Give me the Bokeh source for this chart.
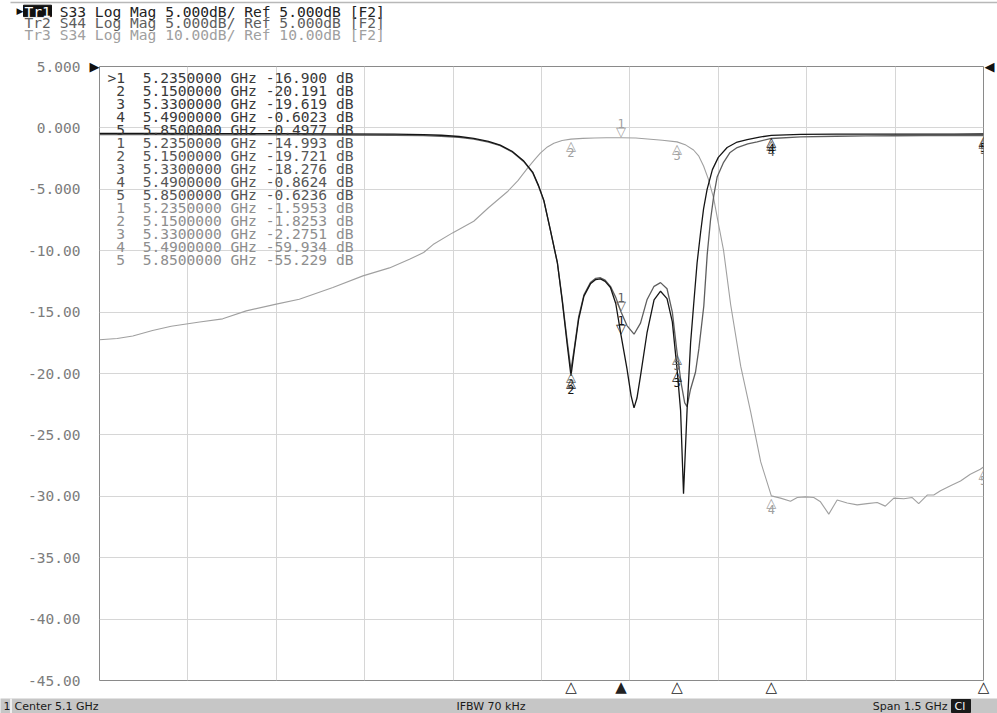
import numpy as np
from bokeh.plotting import figure
from bokeh.layouts import column
from bokeh.models import Range1d, FixedTicker, Label, ColumnDataSource, LinearAxis
from bokeh.core.properties import value
from bokeh.embed import file_html
from bokeh.resources import INLINE

# ---------------- data ----------------
F_START, F_STOP = 4.35, 5.85          # GHz
IFBW_KHZ = 70
TRACE_NAMES = ["S33", "S44", "S34"]
SCALE_DB = [5.0, 5.0, 10.0]           # dB / div
REF_DB = [5.0, 5.0, 10.0]             # reference level (top line)

MARKER_FREQ = [5.235, 5.15, 5.33, 5.49, 5.85]
S33_MARKERS = [-16.900, -20.191, -19.619, -0.6023, -0.4977]
S44_MARKERS = [-14.993, -19.721, -18.276, -0.8624, -0.6236]
S34_MARKERS = [-1.5953, -1.8253, -2.2751, -59.934, -55.229]

S33_F = [4.35, 4.45, 4.55, 4.65, 4.75, 4.85, 4.90, 4.93, 4.96, 4.985, 5.01, 5.03, 5.05, 5.07,
         5.085, 5.095, 5.104, 5.115, 5.127, 5.135, 5.144, 5.15, 5.156, 5.163, 5.172, 5.183,
         5.192, 5.20, 5.208, 5.217, 5.226, 5.235, 5.245, 5.252, 5.257, 5.262, 5.268, 5.279,
         5.291, 5.302, 5.313, 5.322, 5.33, 5.336, 5.341, 5.347, 5.353, 5.358, 5.364, 5.370,
         5.375, 5.381, 5.39, 5.40, 5.415, 5.432, 5.449, 5.47, 5.49, 5.54, 5.60, 5.65, 5.70,
         5.75, 5.80, 5.85]
S33_DB = [-0.45, -0.45, -0.46, -0.47, -0.48, -0.50, -0.54, -0.60, -0.70, -0.85, -1.10, -1.40,
          -1.90, -2.70, -3.60, -4.70, -5.90, -8.30, -11.0, -14.0, -17.8, -20.191, -18.0, -15.6,
          -13.7, -12.7, -12.35, -12.3, -12.5, -13.0, -14.3, -16.900, -19.6, -21.8, -22.8, -22.0,
          -20.2, -16.7, -14.0, -13.3, -13.9, -15.8, -19.619, -23.0, -29.8, -23.0, -17.5, -14.5,
          -11.0, -8.5, -6.6, -5.0, -3.4, -2.4, -1.6, -1.15, -0.95, -0.75, -0.6023, -0.53, -0.51,
          -0.50, -0.50, -0.50, -0.50, -0.4977]

S44_F = [4.35, 4.45, 4.55, 4.65, 4.75, 4.85, 4.90, 4.93, 4.96, 4.985, 5.01, 5.03, 5.05, 5.07,
         5.085, 5.095, 5.104, 5.115, 5.127, 5.135, 5.144, 5.15, 5.156, 5.163, 5.172, 5.183,
         5.192, 5.20, 5.208, 5.217, 5.226, 5.235, 5.245, 5.257, 5.268, 5.279, 5.291, 5.302,
         5.313, 5.322, 5.33, 5.337, 5.343, 5.347, 5.3528, 5.3613, 5.367, 5.3754, 5.3812,
         5.3868, 5.3924, 5.398, 5.409, 5.42, 5.432, 5.45, 5.466, 5.49, 5.54, 5.60, 5.65, 5.70,
         5.75, 5.80, 5.85]
S44_DB = [-0.55, -0.55, -0.56, -0.57, -0.58, -0.60, -0.63, -0.68, -0.77, -0.92, -1.15, -1.45,
          -1.95, -2.75, -3.65, -4.75, -5.95, -8.3, -11.0, -13.9, -17.5, -19.721, -17.8, -15.4,
          -13.6, -12.6, -12.25, -12.2, -12.4, -12.9, -13.8, -14.993, -16.1, -16.8, -15.9, -14.0,
          -12.9, -12.6, -13.1, -15.0, -18.276, -20.8, -22.4, -22.7, -21.3, -19.9, -18.0, -14.5,
          -10.3, -7.5, -5.5, -4.0, -2.8, -2.0, -1.6, -1.3, -1.13, -0.8624, -0.73, -0.68, -0.65,
          -0.64, -0.63, -0.63, -0.6236]

S34_F = [4.35, 4.38, 4.4065, 4.44, 4.4717, 4.52, 4.559, 4.599, 4.65, 4.689, 4.746, 4.797, 4.842,
         4.876, 4.90, 4.916, 4.949, 4.985, 5.01, 5.042, 5.06, 5.076, 5.088, 5.098, 5.11, 5.121,
         5.135, 5.15, 5.17, 5.19, 5.21, 5.235, 5.26, 5.28, 5.305, 5.33, 5.345, 5.358, 5.367,
         5.375, 5.383, 5.392, 5.40, 5.409, 5.421, 5.438, 5.455, 5.472, 5.49, 5.5056, 5.5225,
         5.534, 5.548, 5.562, 5.5734, 5.5875, 5.6017, 5.6187, 5.6357, 5.6526, 5.6696, 5.6834,
         5.6978, 5.7148, 5.729, 5.740, 5.7545, 5.7656, 5.777, 5.794, 5.811, 5.8276, 5.8446, 5.85]
S34_DB = [-34.5, -34.3, -33.9, -33.0, -32.3, -31.6, -31.1, -29.8, -28.7, -27.9, -26.0, -24.1,
          -22.8, -21.4, -20.3, -19.0, -17.1, -15.2, -13.0, -10.4, -8.6, -6.6, -5.2, -4.1, -3.1,
          -2.5, -2.05, -1.8253, -1.7, -1.64, -1.6, -1.5953, -1.65, -1.8, -2.0, -2.2751, -2.8,
          -3.6, -4.6, -6.2, -8.3, -11.4, -15.5, -20.0, -28.8, -38.8, -46.3, -54.4, -59.934,
          -60.3, -60.8, -60.2, -60.1, -60.2, -60.9, -62.9, -60.6, -61.1, -61.4, -61.2, -61.0,
          -61.6, -60.3, -60.4, -60.2, -61.2, -59.8, -59.8, -59.1, -58.3, -57.5, -56.4, -55.6,
          -55.229]

Y_TICKS = [5, 0, -5, -10, -15, -20, -25, -30, -35, -40, -45]

# ---------------- layout / style ----------------
W = 997
HEAD_H = 58                  # page y 0..58
MAIN_TOP = HEAD_H
FL, FR, FT, FB = 99, 983, 66, 683        # frame edges (page px)
MAIN_BOTTOM_BORDER = 15
MAIN_H = FB + MAIN_BOTTOM_BORDER - MAIN_TOP   # page y 58..698
STAT_TOP = MAIN_TOP + MAIN_H
STAT_H = 713 - STAT_TOP                   # page y 698..713
COLORS = ["#151515", "#5e5e5e", "#a0a0a0"]
TABLE_COLORS = ["#3a3a3a", "#565656", "#8e8e8e"]
MONO = "DejaVu Sans Mono"
CH = 8.8                                  # mono character advance at 14.6px
NB = "\u00a0"                             # keeps spaces in svg text

y_top = REF_DB[0]
y_bot = REF_DB[0] - 10 * SCALE_DB[0]
t3_top = REF_DB[2]
t3_bot = REF_DB[2] - 10 * SCALE_DB[2]


def px2x(px):
    return F_START + (px - FL) / (FR - FL) * (F_STOP - F_START)


def px2y(py):
    return y_top - (py - FT) / (FB - FT) * (y_top - y_bot)


def fmt4(v):
    return f"{v:.3f}" if abs(v) < 10 else f"{v:.2f}"


def fmt_val(v):
    return f"{v:.3f}" if abs(v) >= 10 else f"{v:.4f}"


def no_align(f):
    try:
        f.frame_align = False
    except AttributeError:
        pass


def blank_fig(height, y0, bg):
    f = figure(width=W, height=height, x_range=Range1d(0, W),
               y_range=Range1d(y0 + height, y0), output_backend="svg", toolbar_location=None,
               title=None, x_axis_location=None, y_axis_location=None,
               min_border=0, min_border_left=0, min_border_right=0,
               min_border_top=0, min_border_bottom=0)
    f.grid.visible = False
    f.outline_line_color = None
    f.background_fill_color = bg
    f.border_fill_color = bg
    no_align(f)
    return f


# ---------------- header ----------------
head = blank_fig(HEAD_H, 0, "white")
head.segment(x0=[10], y0=[2], x1=[W], y1=[2], line_color="#b8b8b8", line_width=1.5)
row_y = [10.5, 22.2, 33.9]
head.quad(left=[23], right=[51], top=[row_y[0] - 5.8], bottom=[row_y[0] + 5.6], color="#111111")
head.add_layout(Label(x=16, y=row_y[0], text="▶", text_baseline="middle", text_font="DejaVu Sans",
                      text_font_size="9px", text_color="#111111"))
for i, name in enumerate(TRACE_NAMES):
    col = "white" if i == 0 else COLORS[i]
    head.add_layout(Label(x=24, y=row_y[i], text=f"Tr{i + 1}", text_baseline="middle",
                          text_font=MONO, text_font_size="14.6px", text_color=col))
    rest = f"{name} Log Mag {fmt4(SCALE_DB[i])}dB/ Ref {fmt4(REF_DB[i])}dB [F2]"
    head.add_layout(Label(x=24 + 4 * CH, y=row_y[i], text=rest.replace(" ", NB),
                          text_baseline="middle", text_font=MONO, text_font_size="14.6px",
                          text_color="#222222" if i == 0 else COLORS[i]))

# ---------------- main chart ----------------
p = figure(width=W, height=MAIN_H, x_range=Range1d(F_START, F_STOP), y_range=Range1d(y_bot, y_top),
           output_backend="svg", toolbar_location=None, title=None,
           min_border_left=FL, min_border_right=W - FR,
           min_border_top=FT - MAIN_TOP, min_border_bottom=MAIN_BOTTOM_BORDER)
no_align(p)
p.extra_y_ranges = {"tr3": Range1d(t3_bot, t3_top)}
p.background_fill_color = "white"
p.border_fill_color = "white"
p.outline_line_color = "#8a8a8a"

# reference-level arrow (closest left axis) and numeric scale (outer left axis)
ref_ax = p.yaxis[0]
ref_ax.ticker = FixedTicker(ticks=[REF_DB[0]])
ref_ax.major_label_overrides = {REF_DB[0]: "▶"}
ref_ax.major_label_text_font = "DejaVu Sans"
ref_ax.major_label_text_font_size = "13px"
ref_ax.major_label_text_color = "#111111"
ref_ax.major_label_standoff = 0
num_ax = LinearAxis(ticker=FixedTicker(ticks=Y_TICKS),
                    major_label_overrides={t: fmt4(t) for t in Y_TICKS})
num_ax.major_label_text_font = MONO
num_ax.major_label_text_font_size = "14.5px"
num_ax.major_label_text_color = "#7c7c7c"
num_ax.major_label_standoff = 6
p.add_layout(num_ax, "left")
r_ax = LinearAxis(ticker=FixedTicker(ticks=[REF_DB[0]]), major_label_overrides={REF_DB[0]: "◀"})
r_ax.major_label_text_font = "DejaVu Sans"
r_ax.major_label_text_font_size = "13px"
r_ax.major_label_text_color = "#111111"
r_ax.major_label_standoff = 1
p.add_layout(r_ax, "right")

# marker position indicators under the grid (bottom axis)
mk_ax = p.xaxis[0]
mk_ax.ticker = FixedTicker(ticks=MARKER_FREQ)
mk_ax.major_label_overrides = {f: ("▲" if i == 0 else "△") for i, f in enumerate(MARKER_FREQ)}
mk_ax.major_label_text_font = "DejaVu Sans"
mk_ax.major_label_text_font_size = "15px"
mk_ax.major_label_text_color = "#222222"
mk_ax.major_label_standoff = -3

for ax in (ref_ax, num_ax, r_ax, mk_ax):
    ax.axis_line_color = None
    ax.major_tick_line_color = None
    ax.minor_tick_line_color = None
    ax.major_tick_out = 0
    ax.major_tick_in = 0

p.xgrid.ticker = FixedTicker(ticks=list(np.linspace(F_START, F_STOP, 11)))
p.ygrid.ticker = FixedTicker(ticks=Y_TICKS)
for g in (p.xgrid, p.ygrid):
    g.grid_line_color = "#d6d6d6"
    g.grid_line_width = 1

# traces
p.line(S34_F, S34_DB, y_range_name="tr3", line_color=COLORS[2], line_width=1.1)
p.line(S44_F, S44_DB, line_color=COLORS[1], line_width=1.3)
p.line(S33_F, S33_DB, line_color=COLORS[0], line_width=1.3)

# markers on traces
for vals, col, rng in [(S34_MARKERS, COLORS[2], "tr3"), (S44_MARKERS, COLORS[1], "default"),
                       (S33_MARKERS, COLORS[0], "default")]:
    up = ColumnDataSource(dict(x=MARKER_FREQ[1:], y=vals[1:],
                               n=[str(i + 2) for i in range(len(vals) - 1)]))
    act = ColumnDataSource(dict(x=MARKER_FREQ[:1], y=vals[:1], n=["1"]))
    p.text(x="x", y="y", text=value("△"), source=up, y_range_name=rng, text_color=col,
           text_align="center", text_baseline="top", text_font=value("DejaVu Sans"),
           text_font_size="13px", y_offset=-1)
    p.text(x="x", y="y", text="n", source=up, y_range_name=rng, text_color=col,
           text_align="center", text_baseline="top", text_font=value(MONO),
           text_font_size="12px", y_offset=9)
    p.text(x="x", y="y", text=value("▽"), source=act, y_range_name=rng, text_color=col,
           text_align="center", text_baseline="bottom", text_font=value("DejaVu Sans"),
           text_font_size="13px", y_offset=1)
    p.text(x="x", y="y", text="n", source=act, y_range_name=rng, text_color=col,
           text_align="center", text_baseline="bottom", text_font=value(MONO),
           text_font_size="12px", y_offset=-10)

# marker table
rows, row_cols = [], []
for ti, vals in enumerate([S33_MARKERS, S44_MARKERS, S34_MARKERS]):
    for mi, (f, v) in enumerate(zip(MARKER_FREQ, vals)):
        num = (">" if (ti == 0 and mi == 0) else " ") + str(mi + 1)
        rows.append(f"{num}  {f:.7f} GHz {fmt_val(v)} dB".replace(" ", NB))
        row_cols.append(TABLE_COLORS[ti])
tab = ColumnDataSource(dict(x=[px2x(107)] * len(rows),
                            y=[px2y(76.7 + 13.1 * i) for i in range(len(rows))],
                            t=rows, c=row_cols))
p.text(x="x", y="y", text="t", source=tab, text_color="c", text_font=value(MONO),
       text_font_size="14.6px", text_baseline="middle")

# ---------------- status bar ----------------
stat = blank_fig(STAT_H, STAT_TOP, "#c6c6c6")
sy = STAT_TOP + STAT_H / 2
status = [(3, "1", "left"),
          (14, f"Center {(F_START + F_STOP) / 2:.1f} GHz", "left"),
          (456, f"IFBW {IFBW_KHZ} kHz", "left"),
          (947, f"Span {F_STOP - F_START:.1f} GHz", "right")]
stat.quad(left=[10], right=[11], top=[STAT_TOP], bottom=[STAT_TOP + STAT_H], color="#eeeeee")
for px, txt, al in status:
    stat.add_layout(Label(x=px, y=sy, text=txt, text_align=al, text_baseline="middle",
                          text_font="DejaVu Sans", text_font_size="11px", text_color="#1a1a1a"))
stat.quad(left=[951], right=[970], top=[STAT_TOP + 1], bottom=[STAT_TOP + STAT_H - 1],
          color="#1a1a1a")
stat.add_layout(Label(x=954, y=sy, text="Cl", text_baseline="middle", text_font="DejaVu Sans",
                      text_font_size="11px", text_color="white"))

layout = column(head, p, stat, spacing=0)
open("out.html", "w").write(file_html(layout, INLINE))
